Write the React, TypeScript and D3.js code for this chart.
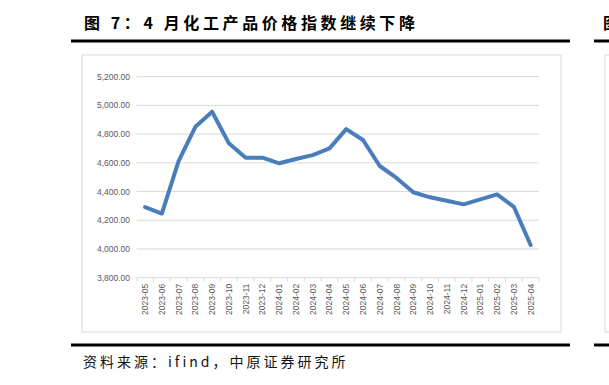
import React, { useEffect, useRef } from 'react';
import * as d3 from 'd3';

const months = [
  '2023-05', '2023-06', '2023-07', '2023-08', '2023-09', '2023-10', '2023-11', '2023-12',
  '2024-01', '2024-02', '2024-03', '2024-04', '2024-05', '2024-06', '2024-07', '2024-08',
  '2024-09', '2024-10', '2024-11', '2024-12', '2025-01', '2025-02', '2025-03', '2025-04',
];

const priceIndex = [
  4292, 4247, 4612, 4851, 4956, 4736, 4636, 4636,
  4597, 4627, 4654, 4701, 4835, 4759, 4578, 4495,
  4395, 4360, 4336, 4311, 4346, 4380, 4294, 4028,
];

const yTicks = [3800, 4000, 4200, 4400, 4600, 4800, 5000, 5200];

const titleText = '图 7：4 月化工产品价格指数继续下降';
const sourceText = '资料来源：ifind，中原证券研究所';

const App: React.FC = () => {
  const ref = useRef<SVGSVGElement>(null);

  useEffect(() => {
    document.body.style.margin = '0';
    const width = 609, height = 385;
    const svg = d3.select(ref.current)
      .attr('width', width)
      .attr('height', height)
      .style('display', 'block')
      .style('background', '#fff');

    svg.selectAll('*').remove();

    const cjk = '"Noto Sans CJK SC", sans-serif';
    const latin = '"Liberation Sans", Arial, sans-serif';

    // header / footer rules
    [41, 345].forEach(y => {
      svg.append('line').attr('x1', 71).attr('x2', 570).attr('y1', y).attr('y2', y)
        .attr('stroke', '#000').attr('stroke-width', 3);
      svg.append('line').attr('x1', 594).attr('x2', 609).attr('y1', y).attr('y2', y)
        .attr('stroke', '#000').attr('stroke-width', 3);
    });

    svg.append('text')
      .attr('x', 84).attr('y', 29)
      .style('font-family', cjk)
      .style('font-size', '16px')
      .style('font-weight', 'bold')
      .style('letter-spacing', '3.6px')
      .attr('fill', '#000')
      .text(titleText);

    svg.append('text')
      .attr('x', 83).attr('y', 367)
      .style('font-family', cjk)
      .style('font-size', '14px')
      .style('letter-spacing', '3px')
      .attr('fill', '#111')
      .text(sourceText);

    // chart frames
    svg.append('rect')
      .attr('x', 82).attr('y', 55).attr('width', 479).attr('height', 277)
      .attr('fill', '#fff').attr('stroke', '#d9d9d9').attr('stroke-width', 1);
    svg.append('rect')
      .attr('x', 605).attr('y', 55).attr('width', 20).attr('height', 277)
      .attr('fill', '#fff').attr('stroke', '#d9d9d9').attr('stroke-width', 1);

    const x = d3.scaleBand<string>().domain(months).range([136.7, 539]);
    const y = d3.scaleLinear().domain([3800, 5200]).range([277.7, 76.7]);

    const fmt = d3.format(',.2f');

    // gridlines
    svg.append('g')
      .selectAll('line')
      .data(yTicks)
      .join('line')
      .attr('x1', 136.7).attr('x2', 539)
      .attr('y1', d => y(d)).attr('y2', d => y(d))
      .attr('stroke', '#d9d9d9').attr('stroke-width', 1);

    svg.append('g')
      .selectAll('text')
      .data(yTicks)
      .join('text')
      .attr('x', 130).attr('y', d => y(d) + 3)
      .attr('text-anchor', 'end')
      .style('font-family', latin)
      .style('font-size', '8.5px')
      .attr('fill', '#595959')
      .text(d => fmt(d));

    // x tick marks at band edges
    const edges = months.map(m => x(m) as number).concat([x.range()[1]]);
    svg.append('g')
      .selectAll('line')
      .data(edges)
      .join('line')
      .attr('x1', d => d).attr('x2', d => d)
      .attr('y1', y(3800)).attr('y2', y(3800) + 4)
      .attr('stroke', '#d9d9d9');

    svg.append('g')
      .selectAll('text')
      .data(months)
      .join('text')
      .attr('transform', d => `translate(${(x(d) as number) + x.bandwidth() / 2 + 3},${y(3800) + 6}) rotate(-90)`)
      .attr('text-anchor', 'end')
      .style('font-family', latin)
      .style('font-size', '8.5px')
      .attr('fill', '#595959')
      .text(d => d);

    const line = d3.line<number>()
      .x((_, i) => (x(months[i]) as number) + x.bandwidth() / 2)
      .y(d => y(d));

    svg.append('path')
      .datum(priceIndex)
      .attr('d', line)
      .attr('fill', 'none')
      .attr('stroke', '#4a7ebb')
      .attr('stroke-width', 4)
      .attr('stroke-linejoin', 'round')
      .attr('stroke-linecap', 'round');

    // start of the neighbouring figure's title, clipped by the page edge as in the source
    svg.append('text')
      .attr('x', 603).attr('y', 29)
      .style('font-family', cjk)
      .style('font-size', '16px')
      .style('font-weight', 'bold')
      .attr('fill', '#000')
      .text('图');
  }, []);

  return <svg ref={ref}></svg>;
};

export default App;
